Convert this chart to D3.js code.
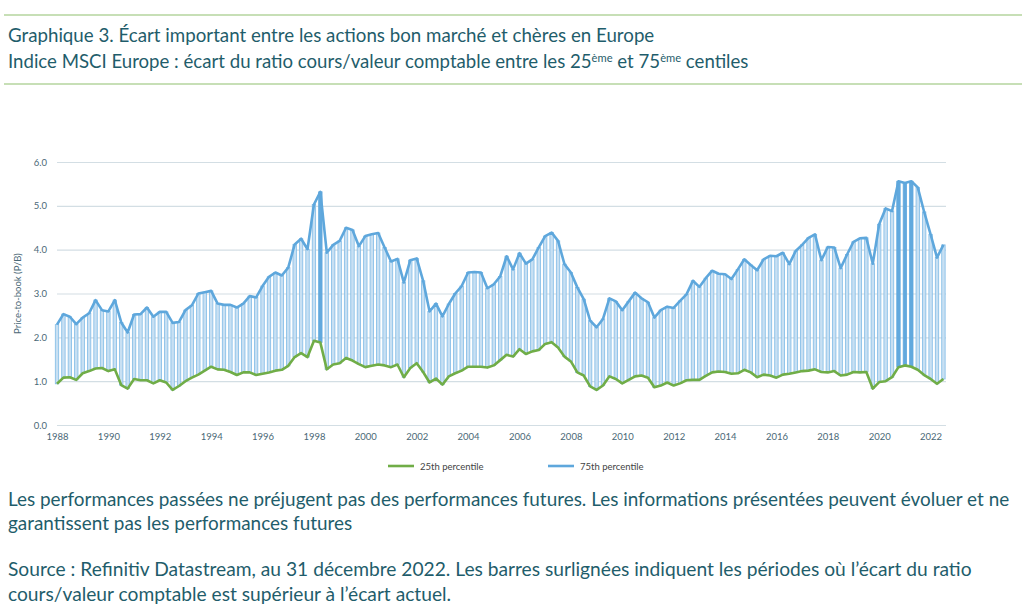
<!DOCTYPE html>
<html lang="fr">
<head>
  <meta charset="UTF-8">
  <title>Graphique 3</title>
  <script src="https://d3js.org/d3.v7.min.js"></script>
  <style>
    body { margin: 0; background: #fff; }
    svg text { font-family: Lato, "Noto Sans", sans-serif; }
    .note { fill: #1f5d6b; }
    .tick text { fill: #4a6876; font-size: 9.5px; }
    .legend text { fill: #444; font-size: 9.5px; }
  </style>
</head>
<body>
<div id="chart"></div>
<script>
// quarterly data, 1988 Q1 onwards
const startYear = 1988;
const perYear = 4;

// 75th percentile price-to-book
const p75 = [
  2.29, 2.53, 2.47, 2.30, 2.45, 2.55, 2.85, 2.62, 2.59, 2.85,
  2.34, 2.11, 2.52, 2.53, 2.68, 2.47, 2.58, 2.58, 2.33, 2.35,
  2.62, 2.73, 3.00, 3.03, 3.06, 2.77, 2.74, 2.74, 2.68, 2.77,
  2.94, 2.91, 3.17, 3.38, 3.48, 3.41, 3.59, 4.12, 4.25, 4.01,
  5.03, 5.32, 3.93, 4.11, 4.20, 4.50, 4.45, 4.08, 4.31, 4.35,
  4.38, 4.05, 3.73, 3.79, 3.25, 3.76, 3.80, 3.29, 2.59, 2.77,
  2.48, 2.76, 3.00, 3.17, 3.48, 3.49, 3.48, 3.12, 3.21, 3.39,
  3.85, 3.55, 3.92, 3.68, 3.78, 4.05, 4.31, 4.39, 4.20, 3.67,
  3.48, 3.14, 2.87, 2.38, 2.23, 2.42, 2.89, 2.82, 2.62, 2.82,
  3.02, 2.89, 2.80, 2.45, 2.62, 2.70, 2.67, 2.83, 2.98, 3.29,
  3.15, 3.35, 3.52, 3.45, 3.44, 3.33, 3.55, 3.78, 3.65, 3.53,
  3.78, 3.86, 3.85, 3.93, 3.67, 3.97, 4.11, 4.27, 4.35, 3.76,
  4.06, 4.05, 3.58, 3.89, 4.18, 4.26, 4.27, 3.68, 4.58, 4.94,
  4.88, 5.56, 5.52, 5.56, 5.42, 4.86, 4.35, 3.82, 4.11
];

// 25th percentile price-to-book
const p25 = [
  0.94, 1.08, 1.09, 1.03, 1.18, 1.23, 1.29, 1.30, 1.23, 1.27,
  0.91, 0.83, 1.05, 1.02, 1.02, 0.95, 1.02, 0.97, 0.80, 0.89,
  1.00, 1.08, 1.15, 1.24, 1.33, 1.27, 1.26, 1.21, 1.14, 1.20,
  1.20, 1.14, 1.17, 1.20, 1.24, 1.26, 1.35, 1.55, 1.64, 1.55,
  1.92, 1.88, 1.27, 1.38, 1.41, 1.53, 1.47, 1.39, 1.32, 1.35,
  1.38, 1.36, 1.32, 1.38, 1.09, 1.30, 1.41, 1.21, 0.97, 1.06,
  0.92, 1.11, 1.18, 1.24, 1.33, 1.33, 1.33, 1.31, 1.36, 1.48,
  1.60, 1.56, 1.73, 1.62, 1.68, 1.71, 1.85, 1.89, 1.77, 1.56,
  1.45, 1.20, 1.13, 0.88, 0.80, 0.90, 1.11, 1.05, 0.95, 1.03,
  1.11, 1.13, 1.08, 0.86, 0.90, 0.97, 0.90, 0.95, 1.02, 1.03,
  1.03, 1.12, 1.20, 1.22, 1.21, 1.17, 1.18, 1.26, 1.20, 1.09,
  1.15, 1.13, 1.08, 1.15, 1.17, 1.20, 1.23, 1.24, 1.27, 1.21,
  1.20, 1.23, 1.13, 1.15, 1.21, 1.20, 1.21, 0.83, 0.98, 1.00,
  1.09, 1.32, 1.36, 1.33, 1.26, 1.14, 1.05, 0.94, 1.05
];

// bars highlighted in the source (gap above today's gap)
const highlighted = [41, 131, 132, 133];

const yTicks = [0, 1, 2, 3, 4, 5, 6];
const xTicks = d3.range(1988, 2023, 2);
const seriesNames = ["25th percentile", "75th percentile"];

const titleLines = [
  "Graphique 3. Écart important entre les actions bon marché et chères en Europe",
  ["Indice MSCI Europe : écart du ratio cours/valeur comptable entre les 25", "ème", " et 75", "ème", " centiles"]
];
const noteLines = [
  "Les performances passées ne préjugent pas des performances futures. Les informations présentées peuvent évoluer et ne",
  "garantissent pas les performances futures",
  "Source : Refinitiv Datastream, au 31 décembre 2022. Les barres surlignées indiquent les périodes où l’écart du ratio",
  "cours/valeur comptable est supérieur à l’écart actuel."
];

const colors = { green: "#70ad47", blue: "#5ea7dc", barFill: "#c8e0f3", barEdge: "#80bbe6", dark: "#62a9de", rule: "#8fbf6e", grid: "#d3dee4" };

const W = 1022, H = 610;
const svg = d3.select("#chart").append("svg").attr("width", W).attr("height", H);

// horizontal rules framing the header
[15, 84].forEach(y => svg.append("line")
  .attr("x1", 4).attr("x2", W).attr("y1", y).attr("y2", y)
  .attr("stroke", colors.rule).attr("stroke-width", 1.2));

// fit a text element to a target width by adjusting font size
function fitText(sel, target, base) {
  const len = sel.node().getComputedTextLength();
  sel.style("font-size", (base * target / len).toFixed(2) + "px");
}

const t1 = svg.append("text").attr("class", "note").attr("x", 8).attr("y", 42).style("font-size", "17px").text(titleLines[0]);
fitText(t1, 647, 17);

const t2 = svg.append("text").attr("class", "note").attr("x", 8).attr("y", 68).style("font-size", "17px");
titleLines[1].forEach((part, i) => {
  const ts = t2.append("tspan").text(part);
  if (i % 2 === 1) ts.attr("dy", -6).style("font-size", "10px");
  else if (i > 0) ts.attr("dy", 6);
});
fitText(t2, 740, 17);
t2.selectAll("tspan").filter((d, i) => i % 2 === 1).style("font-size", "0.6em");

const noteY = [506, 530, 576, 601];
const noteW = [1002, 0, 964, 0];
let noteSize = 17;
noteLines.forEach((line, i) => {
  const t = svg.append("text").attr("class", "note").attr("x", 8).attr("y", noteY[i]).style("font-size", noteSize + "px").text(line);
  if (noteW[i]) { fitText(t, noteW[i], noteSize); noteSize = parseFloat(t.style("font-size")); }
  else t.style("font-size", noteSize + "px");
});

// plot area
const x = d3.scaleLinear().domain([startYear, 2022.6]).range([57, 946]);
const y = d3.scaleLinear().domain([0, 6]).range([425, 162]);
const pos = i => x(startYear + i / perYear);

const plot = svg.append("g");

plot.append("g")
  .attr("transform", "translate(57,0)")
  .call(d3.axisLeft(y).tickValues(yTicks).tickSize(-(946 - 57)).tickFormat(d3.format(".1f")))
  .call(g => g.select(".domain").remove())
  .call(g => g.selectAll(".tick line").attr("stroke", colors.grid).attr("stroke-width", 1.2))
  .call(g => g.selectAll(".tick text").attr("x", -10));

plot.append("g")
  .attr("transform", `translate(0,${y(0)})`)
  .call(d3.axisBottom(x).tickValues(xTicks).tickSize(0).tickFormat(d3.format("d")))
  .call(g => g.select(".domain").remove())
  .call(g => g.selectAll(".tick text").attr("dy", "1.25em"));

svg.append("text")
  .attr("transform", `translate(21,${y(3)}) rotate(-90)`)
  .attr("text-anchor", "middle")
  .style("font-size", "9.5px").style("fill", "#4a6876")
  .text("Price-to-book (P/B)");

// floating columns from the 25th to the 75th percentile
const barW = 3.4;
const rows = p75.map((v, i) => ({ i, hi: v, lo: p25[i], mark: highlighted.includes(i) }));

plot.append("g").selectAll("rect")
  .data(rows)
  .join("rect")
  .attr("x", d => pos(d.i) - barW / 2)
  .attr("width", barW)
  .attr("y", d => y(d.hi))
  .attr("height", d => y(d.lo) - y(d.hi))
  .attr("fill", d => d.mark ? colors.dark : colors.barFill)
  .attr("stroke", d => d.mark ? colors.dark : colors.barEdge)
  .attr("stroke-width", 0.8);

const line = key => d3.line().x(d => pos(d.i)).y(d => y(d[key]));

plot.append("path").datum(rows)
  .attr("fill", "none").attr("stroke", colors.green).attr("stroke-width", 2.6)
  .attr("stroke-linejoin", "round").attr("d", line("lo"));

plot.append("path").datum(rows)
  .attr("fill", "none").attr("stroke", colors.blue).attr("stroke-width", 2.6)
  .attr("stroke-linejoin", "round").attr("d", line("hi"));

// legend
const legend = svg.append("g").attr("class", "legend");
[[388, colors.green], [548, colors.blue]].forEach(([lx, c], i) => {
  legend.append("line").attr("x1", lx).attr("x2", lx + 26).attr("y1", 466).attr("y2", 466)
    .attr("stroke", c).attr("stroke-width", 2.6);
  legend.append("text").attr("x", lx + 32).attr("y", 469.5).text(seriesNames[i]);
});
</script>
</body>
</html>
